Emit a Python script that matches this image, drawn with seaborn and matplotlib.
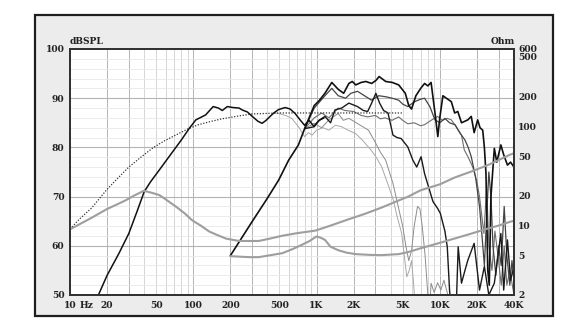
import numpy as np
import pandas as pd
import matplotlib
matplotlib.use("Agg")
import matplotlib.pyplot as plt
import seaborn as sns
from matplotlib.patches import Rectangle
from matplotlib.ticker import NullLocator

# ---------------- data ----------------
# simulated response (dotted)
sim_f = [10, 12, 15, 20, 25, 30, 38, 47, 58, 72, 93, 110, 135, 170, 235, 300, 500, 1000, 2000, 5000]
sim_db = [63.4, 65.5, 67.7, 71.5, 74, 76, 78.1, 79.9, 81.3, 82.5, 83.9, 84.6, 85.2, 85.8, 86.4, 86.8,
          87, 87, 87, 87]

# woofer on-axis
w0_f = [17, 20, 25, 30, 35, 40, 45, 53, 68, 80, 93, 105, 126, 145, 160, 172, 189, 210, 235, 250,
        275, 301, 335, 362, 390, 412, 450, 493, 557, 610, 670, 735, 800, 870, 950, 1050, 1150]
w0_db = [50, 54, 58.5, 62.5, 67, 71, 73, 75.4, 79.1, 81.5, 83.9, 85.6, 86.6, 88.3, 88, 87.5, 88.3, 88.1, 88, 87.6,
         87.2, 86.3, 85.3, 84.9, 85.5, 86.1, 87, 87.7, 88.1, 87.8, 86.9, 85.6, 84.5, 85.5, 84.3, 85.5, 86]

# tweeter on-axis
t0_f = [200, 300, 400, 494, 594, 713, 800, 958, 1050, 1170, 1330, 1500, 1660, 1830, 1950, 2080, 2300,
        2510, 2800, 3030, 3220, 3640, 4120, 4640, 5250, 5600, 5900, 6400, 7000, 7530, 8000, 8500,
        9140, 9640, 10000, 10600, 11300, 12400, 13200, 14000, 15000, 16900, 18000, 19000, 20300,
        21200, 22300, 23000, 23700, 24500, 25200, 26000, 27700, 29000, 31300, 33000, 35400, 37500, 40000]
t0_db = [58, 64.9, 69.7, 73.4, 77.4, 80.5, 83.8, 88.5, 89.5, 91, 93.2, 91.8, 91, 93, 93.4, 92.7, 93.2,
         93.4, 93, 93.6, 94.4, 93.4, 93.2, 92.7, 91, 88.5, 87.8, 90.5, 92, 93, 92.5, 93.2,
         87, 82.2, 86, 90.5, 90, 89.3, 87, 87.3, 85, 85.6, 86.3, 83, 85.6,
         84, 83.5, 80, 74.7, 55, 52, 70, 79.8, 77, 80.5, 78.5, 76.4, 77, 76]

# tweeter 15 deg
t1_f = [800, 958, 1170, 1330, 1500, 1720, 1900, 2150, 2450, 2790, 3200, 3640, 4100, 4640, 5000, 5500,
        6250, 7000, 7530, 8300, 9140, 10000, 11000, 12000, 13300, 14500, 16000, 17000, 18000, 19500,
        21000, 22000, 23000, 24000, 25000, 26000, 27000, 28500, 30000, 31500, 33300, 35000, 37000, 38500, 40000]
t1_db = [83.8, 88, 90.5, 92, 90.5, 90, 91, 91.4, 90.5, 89.6, 90.5, 90.3, 90, 89.6, 88.8, 88.3,
         89.3, 89.8, 90, 88.3, 85.6, 85, 85.9, 85, 84.6, 83, 81.5, 80, 78.1, 74,
         68, 62, 56, 66, 75, 70, 60, 54, 60, 56, 68, 58, 52, 57, 53]

# tweeter second black curve
t2_f = [800, 958, 1050, 1170, 1300, 1410, 1600, 1830, 2150, 2400, 2600, 2800, 3030, 3250, 3500, 3800,
        4170, 4500, 4860, 5500, 6050, 6500, 7050, 7520, 8100, 8800, 9600, 10100, 11000, 11500, 12000,
        12500, 13500, 14100, 15000, 16000, 16900, 19000, 21000, 23000, 25000, 27700, 31300, 33000,
        35400, 37500, 40000]
t2_db = [83.8, 84.2, 85.5, 86.3, 85, 87.6, 88, 89, 88.3, 87.5, 87.3, 89, 91, 89, 87.5, 87,
         82.5, 82, 81.8, 80.1, 77.4, 76, 78.1, 74.7, 72, 69, 67.6, 66.6, 63, 59.8, 51,
         46, 45, 59.8, 52.4, 55, 57.1, 60.5, 51, 55.8, 50, 52.4, 62.5, 51,
         61.2, 53, 55.8]

# tweeter 30 deg
t3_f = [800, 958, 1100, 1260, 1500, 1700, 2000, 2300, 2600, 3000, 3300, 3600, 4100, 4640, 5000, 5500,
        6200, 7000, 7500, 8500, 9600, 10500, 11500, 12400, 13500, 15000, 15800, 17000, 18500, 20000,
        21000, 22800, 24000, 25000, 26500, 28000, 30000, 31500, 33300, 35000, 37000, 40000]
t3_db = [83.8, 86, 87, 86, 88, 87.5, 87.3, 86.5, 86.2, 86.5, 85.8, 86, 85.5, 86.2, 85.5, 84.8,
         85, 84.4, 84.6, 85.5, 86.3, 85.5, 85.9, 85.6, 84.3, 82.5, 79.5, 78, 76, 73,
         70, 62.5, 72, 60, 55, 63, 57, 52, 60, 52, 55, 50]

# off-axis thin curves
g1_f = [800, 958, 1100, 1260, 1500, 1650, 1830, 2100, 2370, 2640, 3030, 3300, 3640, 3900, 4170, 4600,
        5000, 5300, 5600, 5900, 6200, 6600, 6900, 7200, 7600, 8000, 8300, 8500, 9000, 9600, 10200,
        10800, 11500, 12200]
g1_db = [83.8, 84.9, 84, 85.6, 86.9, 85.5, 85.9, 85, 84.2, 83.5, 80.8, 79, 77.4, 75, 72.7, 68,
         64, 60, 57, 59, 64, 68, 67.5, 64, 58, 50, 48, 52.4, 50.5, 52.5, 51,
         53, 50.5, 47]

g2_f = [450, 493, 560, 630, 713, 800, 860, 920, 1000, 1130, 1260, 1420, 1600, 1800, 2080, 2350, 2760,
        3050, 3370, 3800, 4200, 4500, 4900, 5150, 5400, 5650, 5900, 6100, 6300]
g2_db = [87, 86.9, 86.5, 85.9, 84.2, 82.2, 83, 82.5, 83.5, 84, 83.5, 84.5, 84.2, 83.5, 82.8, 81.5, 79.5,
         78, 76.1, 72.5, 69.3, 66, 62.6, 58, 53.7, 55, 57, 53, 48]

# impedance (Ohm)
z1_f = [10, 15, 19.8, 25, 28.6, 33, 39.7, 46, 53, 60, 72, 85, 98, 115, 135, 160, 184, 235, 340, 420,
        527, 700, 980, 1300, 1830, 2500, 3380, 4640, 5500, 7000, 10000, 13300, 18000, 24500, 37000, 40000]
z1_ohm = [9.17, 12.0, 14.6, 16.7, 18.1, 20.0, 22.4, 21.4, 20.3, 18.3, 15.6, 13.3, 11.3, 10.0, 8.7, 7.95,
          7.4, 7.0, 7.0, 7.4, 7.9, 8.4, 8.9, 10.0, 11.6, 13.2, 15.2, 17.9, 19.5, 22.7, 26, 30.6, 35,
          40.6, 51.6, 53.5]

z2_f = [200, 284, 340, 527, 640, 760, 880, 1000, 1080, 1170, 1300, 1500, 1750, 2080, 2700, 3380, 4640,
        5500, 7000, 10000, 13300, 18000, 24500, 30000, 37000, 40000]
z2_ohm = [4.92, 4.81, 4.81, 5.27, 5.8, 6.40, 7.0, 7.78, 7.55, 7.18, 6.12, 5.65, 5.34, 5.16, 5.07, 5.04,
          5.16, 5.4, 5.91, 6.7, 7.43, 8.3, 9.33, 10.0, 10.9, 11.2]

x_ticks = [10, 13.6, 20, 50, 100, 200, 500, 1000, 2000, 5000, 10000, 20000, 40000]
x_labels = ["10", "Hz", "20", "50", "100", "200", "500", "1K", "2K", "5K", "10K", "20K", "40K"]
y_ticks = [50, 60, 70, 80, 90, 100]
ohm_ticks = [2, 5, 10, 20, 50, 100, 200, 500, 600]

# ---------------- figure ----------------
sns.set_theme(style="white")
plt.rcParams["font.family"] = ["DejaVu Serif", "DejaVu Sans"]

fig = plt.figure(figsize=(5.82, 3.33), dpi=100)
fig.patch.set_facecolor("white")
frame = Rectangle((35 / 582, 1 - 316 / 333), (553 - 35) / 582, (316 - 15) / 333,
                  transform=fig.transFigure, facecolor="#ececec", edgecolor="#1e1e1e",
                  linewidth=1.6, zorder=-10)
fig.patches.append(frame)

ax = fig.add_axes([70 / 582, 1 - 295 / 333, 444 / 582, 246 / 333])
ax.set_zorder(1)
ax.set_facecolor("white")
ax.set_xscale("log")
ax.set_xlim(10, 40000)
ax.set_ylim(50, 100)

# grid
for dec in [10, 100, 1000, 10000]:
    for m in range(1, 10):
        v = dec * m
        if v > 40000:
            continue
        col = "#b4b4b4" if m in (1, 2, 3) else "#d6d6d6"
        ax.axvline(v, color=col, lw=0.7, zorder=0)
for v in range(52, 100, 2):
    if v % 10 == 0:
        ax.axhline(v, color="#b4b4b4", lw=0.8, zorder=0)
    else:
        ax.axhline(v, color="#e8e8e8", lw=0.6, zorder=0)


def draw(axis, f, y, **kw):
    df = pd.DataFrame({"f": f, "y": y})
    sns.lineplot(data=df, x="f", y="y", ax=axis, estimator=None, sort=False, legend=False, **kw)


draw(ax, g2_f, g2_db, color="#a8a8a8", lw=0.7)
draw(ax, g1_f, g1_db, color="#8c8c8c", lw=0.7)
draw(ax, t3_f, t3_db, color="#6e6e6e", lw=0.8)
draw(ax, t1_f, t1_db, color="#444444", lw=0.9)
draw(ax, t2_f, t2_db, color="#1a1a1a", lw=1.0)
draw(ax, sim_f, sim_db, color="#333333", lw=0.9, linestyle=(0, (1, 1.3)))
draw(ax, w0_f, w0_db, color="#111111", lw=1.1)
draw(ax, t0_f, t0_db, color="#111111", lw=1.2)

ax.set_xticks(x_ticks)
ax.set_xticklabels(x_labels, fontsize=6.6, fontweight="bold", color="#222222")
ax.xaxis.set_minor_locator(NullLocator())
ax.set_yticks(y_ticks)
ax.set_yticklabels([str(v) for v in y_ticks], fontsize=6.6, fontweight="bold", color="#222222")
ax.tick_params(axis="both", length=0, pad=4)
ax.set_xlabel("")
ax.set_ylabel("")
for s in ax.spines.values():
    s.set_color("#333333")
    s.set_linewidth(1.4)

ax2 = ax.twinx()
ax2.set_zorder(2)
ax2.patch.set_visible(False)
ax2.set_yscale("log")
ax2.set_ylim(2, 600)
draw(ax2, z1_f, z1_ohm, color="#9e9e9e", lw=1.5)
draw(ax2, z2_f, z2_ohm, color="#9e9e9e", lw=1.5)
ax2.set_yticks(ohm_ticks)
ax2.set_yticklabels([str(v) for v in ohm_ticks], fontsize=6.6, fontweight="bold", color="#222222")
ax2.yaxis.set_minor_locator(NullLocator())
ax2.tick_params(axis="y", length=0, pad=3)
ax2.set_ylabel("")
ax2.set_xlim(10, 40000)
for s in ax2.spines.values():
    s.set_color("#333333")
    s.set_linewidth(1.4)

fig.text(70 / 582, 1 - 41.5 / 333, "dBSPL", ha="left", va="center", fontsize=6.6,
         fontweight="bold", color="#222222")
fig.text(515 / 582, 1 - 41 / 333, "Ohm", ha="right", va="center", fontsize=6.6,
         fontweight="bold", color="#222222")

fig.savefig("out.png", dpi=100, facecolor="white")
